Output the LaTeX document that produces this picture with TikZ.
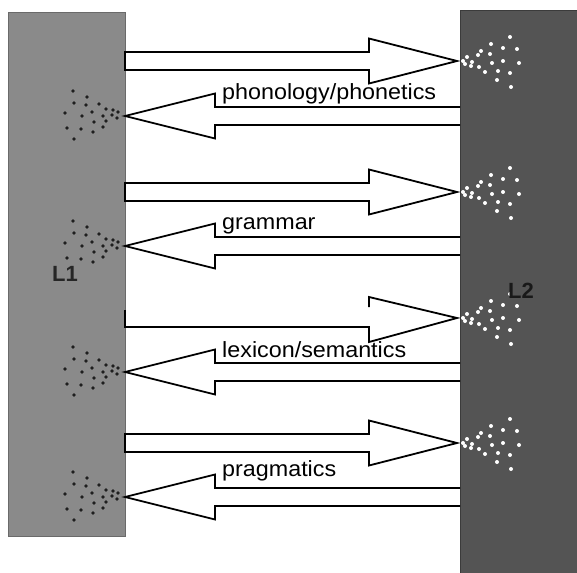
\documentclass[tikz,border=0pt]{standalone}
\usepackage{fontspec}
\setmainfont{Liberation Sans}
\usetikzlibrary{calc}
\definecolor{lgray}{HTML}{8A8A8A}
\definecolor{lborder}{HTML}{6A6A6A}
\definecolor{dgray}{HTML}{545454}
\definecolor{ldot}{HTML}{1E1E1E}
\begin{document}
\begin{tikzpicture}[x=1pt,y=-1pt,
  leftbox/.style={fill=lgray,draw=lborder,line width=0.8pt,inner sep=0pt,outer sep=0pt,anchor=north west,minimum width=117pt,minimum height=524pt},
  rightbox/.style={fill=dgray,draw=dgray!70!black,line width=0.8pt,inner sep=0pt,outer sep=0pt,anchor=north west,minimum width=125pt,minimum height=570pt},
  arrowline/.style={draw=black,line width=1.8pt,line join=miter},
  lab/.style={anchor=base west,inner sep=0pt,font=\fontsize{22}{24}\selectfont},
  langlab/.style={inner sep=0pt,font=\fontsize{22}{24}\selectfont\bfseries},
  ddot/.style={fill=ldot},
  wdot/.style={fill=white}]
\useasboundingbox (0,0) rectangle (577,572);
\fill[white] (0,0) rectangle (577,572);
% boxes
\node[leftbox] (L1box) at (8,12) {};
\node[rightbox] (L2box) at (460,10) {};
% tip coordinates
\coordinate (r1) at (457,61);
\coordinate (r2) at (457,192);
\coordinate (r3) at (457,318);
\coordinate (r4) at (457,443);
\coordinate (l1) at (125,116);
\coordinate (l2) at (125,246);
\coordinate (l3) at (125,372);
\coordinate (l4) at (125,497);
% right-pointing arrows (L1 -> L2)
\foreach \c in {r1,r2,r4}{
  \draw[arrowline] ($(\c)+(-332,-9)$) -- ($(\c)+(-88,-9)$) -- ($(\c)+(-88,-22.5)$) -- (\c)
     -- ($(\c)+(-88,22.5)$) -- ($(\c)+(-88,9)$) -- ($(\c)+(-332,9)$) -- cycle;
}
\draw[arrowline] ($(r3)+(-332,-8)$) -- ($(r3)+(-332,9)$) -- ($(r3)+(-88,9)$) -- ($(r3)+(-88,24)$) -- (r3)
   -- ($(r3)+(-88,-21)$) -- ($(r3)+(-88,-11)$);
% left-pointing arrows (L2 -> L1)
\foreach \c in {l1,l2,l3,l4}{
  \draw[arrowline] ($(\c)+(335,-9)$) -- ($(\c)+(90,-9)$) -- ($(\c)+(90,-22.5)$) -- (\c)
     -- ($(\c)+(90,22.5)$) -- ($(\c)+(90,9)$) -- ($(\c)+(335,9)$);
}
% dot clusters
\foreach \c in {l1,l2,l3,l4}{
  \foreach \dx/\dy in {-52/-25,-38/-19,-51/-13,-39/-11,-26/-12,-19/-7,-12/-6,-7/-4,-60/-3,-43/0,-33/-4,-22/0,-13/-1,-8/2,-19/5,-31/6,-58/12,-44/13,-32/16,-22/11}
    \fill[ddot] ($(\c)+(\dx,\dy)$) circle (1.9pt);
}
\foreach \c in {l1,l3,l4}{
  \fill[ddot] ($(\c)+(-51,23)$) circle (1.9pt);
}
\foreach \c in {r1,r2,r3,r4}{
  \foreach \dx/\dy in {53/-24,34/-17,46/-13,60/-12,24/-10,33/-7,21/-6,10/-4,46/0,62/2,35/2,6/0,15/1,8/3,14/5,22/6,28/11,41/10,53/12,40/19,54/26}
    \fill[wdot] ($(\c)+(\dx,\dy)$) circle (2pt);
}
% labels
\node[lab] (t1) at (222,100) {\scalebox{1.06}[1]{phonology/phonetics}};
\node[lab] (t2) at (222,229) {\scalebox{1.06}[1]{grammar}};
\node[lab] (t3) at (222,357) {\scalebox{1.06}[1]{lexicon/semantics}};
\node[lab] (t4) at (222,476) {\scalebox{1.06}[1]{pragmatics}};
\node[langlab,text=black!85] (n1) at (65,274) {L1};
\node[langlab,text=black!90] (n2) at (521,291) {L2};
\end{tikzpicture}
\end{document}
